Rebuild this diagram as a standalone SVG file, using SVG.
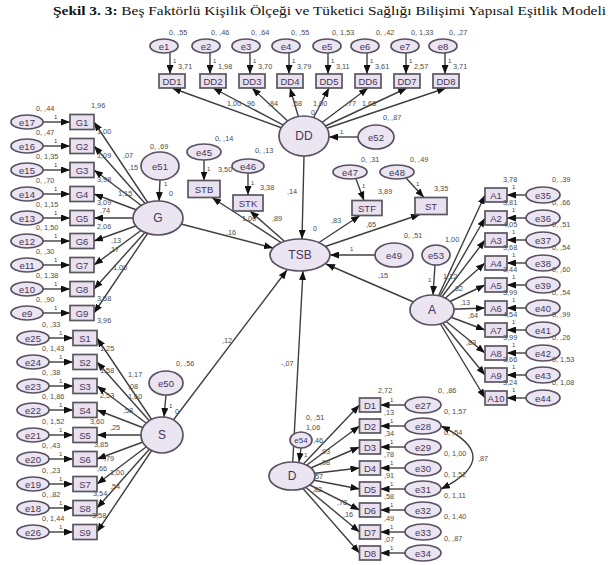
<svg xmlns="http://www.w3.org/2000/svg" width="608" height="565" viewBox="0 0 608 565">
<defs>
<marker id="ah" markerWidth="9" markerHeight="7" refX="9" refY="3.5" orient="auto" markerUnits="userSpaceOnUse"><path d="M0,0 L9,3.5 L0,7 z" fill="#111"/></marker>
<marker id="ah2" markerWidth="9" markerHeight="7" refX="9" refY="3.5" orient="auto-start-reverse" markerUnits="userSpaceOnUse"><path d="M0,0 L9,3.5 L0,7 z" fill="#111"/></marker>
<style>
.lat{fill:#ebe4f1;stroke:#5a5062;stroke-width:1.7}
.obs{fill:#e9e1ef;stroke:#5a5660;stroke-width:1.7}
.lt{font-family:"Liberation Sans",Arial,sans-serif;font-size:12px;fill:#45365a;text-anchor:middle;dominant-baseline:central}
.nt{font-family:"Liberation Sans",Arial,sans-serif;font-size:9.5px;fill:#45365a;text-anchor:middle;dominant-baseline:central}
.lb{font-family:"Liberation Sans",Arial,sans-serif;font-size:7.3px;fill:#4d4d4d}
.one{font-family:"Liberation Sans",Arial,sans-serif;font-size:6px;fill:#444}
.c{stroke:#3f3f3f;stroke-width:1.4;fill:none;marker-end:url(#ah)}
.cv{stroke:#3f3f3f;stroke-width:1.4;fill:none;marker-start:url(#ah2);marker-end:url(#ah2)}
.ttl{font-family:"Liberation Serif","Times New Roman",serif;font-size:13.5px;fill:#111}
</style>
</defs>
<rect width="608" height="565" fill="#fff"/>
<text class="ttl" x="53" y="15" textLength="553" lengthAdjust="spacingAndGlyphs"><tspan font-weight="bold">Şekil 3. 3:</tspan> Beş Faktörlü Kişilik Ölçeği ve Tüketici Sağlığı Bilişimi Yapısal Eşitlik Modeli</text>

<g id="connectors">
<line class="c" x1="170" y1="53" x2="170" y2="74"/>
<line class="c" x1="210" y1="53" x2="210" y2="74"/>
<line class="c" x1="250" y1="53" x2="250" y2="74"/>
<line class="c" x1="289" y1="53" x2="289" y2="74"/>
<line class="c" x1="328" y1="53" x2="328" y2="74"/>
<line class="c" x1="367" y1="53" x2="367" y2="74"/>
<line class="c" x1="406" y1="53" x2="406" y2="74"/>
<line class="c" x1="445" y1="53" x2="445" y2="74"/>
<line class="c" x1="304" y1="136" x2="172" y2="88"/>
<line class="c" x1="304" y1="136" x2="213" y2="88"/>
<line class="c" x1="304" y1="136" x2="252" y2="88"/>
<line class="c" x1="304" y1="136" x2="290" y2="88"/>
<line class="c" x1="304" y1="136" x2="329" y2="88"/>
<line class="c" x1="304" y1="136" x2="368" y2="88"/>
<line class="c" x1="304" y1="136" x2="407" y2="88"/>
<line class="c" x1="304" y1="136" x2="446" y2="88"/>
<line class="c" x1="358" y1="137" x2="329" y2="137"/>
<line class="c" x1="304" y1="156" x2="302" y2="239"/>
<line class="c" x1="43" y1="122" x2="70" y2="122"/>
<line class="c" x1="43" y1="146" x2="70" y2="146"/>
<line class="c" x1="43" y1="170" x2="70" y2="170"/>
<line class="c" x1="43" y1="194" x2="70" y2="194"/>
<line class="c" x1="43" y1="218" x2="70" y2="218"/>
<line class="c" x1="43" y1="241" x2="70" y2="241"/>
<line class="c" x1="43" y1="265" x2="70" y2="265"/>
<line class="c" x1="43" y1="289" x2="70" y2="289"/>
<line class="c" x1="43" y1="313" x2="70" y2="313"/>
<line class="c" x1="158" y1="218" x2="94" y2="122"/>
<line class="c" x1="158" y1="218" x2="94" y2="146"/>
<line class="c" x1="158" y1="218" x2="94" y2="170"/>
<line class="c" x1="158" y1="218" x2="94" y2="194"/>
<line class="c" x1="158" y1="218" x2="94" y2="218"/>
<line class="c" x1="158" y1="218" x2="94" y2="241"/>
<line class="c" x1="158" y1="218" x2="94" y2="265"/>
<line class="c" x1="158" y1="218" x2="94" y2="289"/>
<line class="c" x1="158" y1="218" x2="94" y2="313"/>
<line class="c" x1="160" y1="180" x2="159" y2="201"/>
<line class="c" x1="158" y1="218" x2="273" y2="248"/>
<line class="c" x1="49" y1="338" x2="73" y2="338"/>
<line class="c" x1="49" y1="362" x2="73" y2="362"/>
<line class="c" x1="49" y1="386" x2="73" y2="386"/>
<line class="c" x1="49" y1="410" x2="73" y2="410"/>
<line class="c" x1="49" y1="435" x2="73" y2="435"/>
<line class="c" x1="49" y1="459" x2="73" y2="459"/>
<line class="c" x1="49" y1="484" x2="73" y2="484"/>
<line class="c" x1="49" y1="508" x2="73" y2="508"/>
<line class="c" x1="49" y1="532" x2="73" y2="532"/>
<line class="c" x1="162" y1="435" x2="97" y2="338"/>
<line class="c" x1="162" y1="435" x2="97" y2="362"/>
<line class="c" x1="162" y1="435" x2="97" y2="386"/>
<line class="c" x1="162" y1="435" x2="97" y2="410"/>
<line class="c" x1="162" y1="435" x2="97" y2="435"/>
<line class="c" x1="162" y1="435" x2="97" y2="459"/>
<line class="c" x1="162" y1="435" x2="97" y2="484"/>
<line class="c" x1="162" y1="435" x2="97" y2="508"/>
<line class="c" x1="162" y1="435" x2="97" y2="532"/>
<line class="c" x1="166" y1="395" x2="164" y2="417"/>
<line class="c" x1="162" y1="435" x2="287" y2="270"/>
<line class="c" x1="204" y1="160" x2="204" y2="180.5"/>
<line class="c" x1="248" y1="173" x2="248" y2="195"/>
<line class="c" x1="356" y1="179" x2="364" y2="200.5"/>
<line class="c" x1="406" y1="178" x2="424" y2="197.5"/>
<line class="c" x1="300" y1="255" x2="212" y2="197.5"/>
<line class="c" x1="300" y1="255" x2="250" y2="211"/>
<line class="c" x1="300" y1="255" x2="360" y2="215.5"/>
<line class="c" x1="300" y1="255" x2="420" y2="214.5"/>
<line class="c" x1="375" y1="255" x2="330" y2="255"/>
<line class="c" x1="432" y1="310" x2="326" y2="264"/>
<line class="c" x1="292" y1="476" x2="303" y2="271"/>
<line class="c" x1="526" y1="195" x2="507" y2="195"/>
<line class="c" x1="526" y1="218" x2="507" y2="218"/>
<line class="c" x1="526" y1="240" x2="507" y2="240"/>
<line class="c" x1="526" y1="263" x2="507" y2="263"/>
<line class="c" x1="526" y1="285" x2="507" y2="285"/>
<line class="c" x1="526" y1="308" x2="507" y2="308"/>
<line class="c" x1="526" y1="330" x2="507" y2="330"/>
<line class="c" x1="526" y1="353" x2="507" y2="353"/>
<line class="c" x1="526" y1="375" x2="507" y2="375"/>
<line class="c" x1="526" y1="398" x2="507" y2="398"/>
<line class="c" x1="432" y1="310" x2="485" y2="195"/>
<line class="c" x1="432" y1="310" x2="485" y2="218"/>
<line class="c" x1="432" y1="310" x2="485" y2="240"/>
<line class="c" x1="432" y1="310" x2="485" y2="263"/>
<line class="c" x1="432" y1="310" x2="485" y2="285"/>
<line class="c" x1="432" y1="310" x2="485" y2="308"/>
<line class="c" x1="432" y1="310" x2="485" y2="330"/>
<line class="c" x1="432" y1="310" x2="485" y2="353"/>
<line class="c" x1="432" y1="310" x2="485" y2="375"/>
<line class="c" x1="432" y1="310" x2="485" y2="398"/>
<line class="c" x1="435" y1="265" x2="433" y2="295"/>
<line class="c" x1="405" y1="405" x2="380.5" y2="405"/>
<line class="c" x1="405" y1="426" x2="380.5" y2="426"/>
<line class="c" x1="405" y1="447" x2="380.5" y2="447"/>
<line class="c" x1="405" y1="468" x2="380.5" y2="468"/>
<line class="c" x1="405" y1="489" x2="380.5" y2="489"/>
<line class="c" x1="405" y1="510" x2="380.5" y2="510"/>
<line class="c" x1="405" y1="532" x2="380.5" y2="532"/>
<line class="c" x1="405" y1="553" x2="380.5" y2="553"/>
<line class="c" x1="292" y1="476" x2="359.5" y2="405"/>
<line class="c" x1="292" y1="476" x2="359.5" y2="426"/>
<line class="c" x1="292" y1="476" x2="359.5" y2="447"/>
<line class="c" x1="292" y1="476" x2="359.5" y2="468"/>
<line class="c" x1="292" y1="476" x2="359.5" y2="489"/>
<line class="c" x1="292" y1="476" x2="359.5" y2="510"/>
<line class="c" x1="292" y1="476" x2="359.5" y2="532"/>
<line class="c" x1="292" y1="476" x2="359.5" y2="553"/>
<line class="c" x1="301" y1="448" x2="299" y2="462"/>
<path class="cv" d="M441,426 Q505,457 441,489"/>
</g>

<g id="e1"><ellipse class="lat" cx="164" cy="46" rx="14" ry="7"/><text class="nt" x="164" y="46">e1</text></g>
<g id="e2"><ellipse class="lat" cx="206" cy="46" rx="14" ry="7"/><text class="nt" x="206" y="46">e2</text></g>
<g id="e3"><ellipse class="lat" cx="246" cy="46" rx="14" ry="7"/><text class="nt" x="246" y="46">e3</text></g>
<g id="e4"><ellipse class="lat" cx="286" cy="46" rx="14" ry="7"/><text class="nt" x="286" y="46">e4</text></g>
<g id="e5"><ellipse class="lat" cx="327" cy="46" rx="14" ry="7"/><text class="nt" x="327" y="46">e5</text></g>
<g id="e6"><ellipse class="lat" cx="365" cy="46" rx="14" ry="7"/><text class="nt" x="365" y="46">e6</text></g>
<g id="e7"><ellipse class="lat" cx="405" cy="46" rx="14" ry="7"/><text class="nt" x="405" y="46">e7</text></g>
<g id="e8"><ellipse class="lat" cx="443" cy="46" rx="14" ry="7"/><text class="nt" x="443" y="46">e8</text></g>
<g id="DD1"><rect class="obs" x="159" y="74" width="26" height="14"/><text class="nt" x="172" y="81">DD1</text></g>
<g id="DD2"><rect class="obs" x="200" y="74" width="26" height="14"/><text class="nt" x="213" y="81">DD2</text></g>
<g id="DD3"><rect class="obs" x="239" y="74" width="26" height="14"/><text class="nt" x="252" y="81">DD3</text></g>
<g id="DD4"><rect class="obs" x="277" y="74" width="26" height="14"/><text class="nt" x="290" y="81">DD4</text></g>
<g id="DD5"><rect class="obs" x="316" y="74" width="26" height="14"/><text class="nt" x="329" y="81">DD5</text></g>
<g id="DD6"><rect class="obs" x="355" y="74" width="26" height="14"/><text class="nt" x="368" y="81">DD6</text></g>
<g id="DD7"><rect class="obs" x="394" y="74" width="26" height="14"/><text class="nt" x="407" y="81">DD7</text></g>
<g id="DD8"><rect class="obs" x="433" y="74" width="26" height="14"/><text class="nt" x="446" y="81">DD8</text></g>
<g id="DD"><ellipse class="lat" cx="304" cy="136" rx="25" ry="20"/><text class="lt" x="304" y="136">DD</text></g>
<g id="e52"><ellipse class="lat" cx="376" cy="137" rx="18" ry="12"/><text class="nt" x="376" y="137">e52</text></g>

<g id="e17"><ellipse class="lat" cx="27" cy="122" rx="16" ry="7"/><text class="nt" x="27" y="122">e17</text></g>
<g id="e16"><ellipse class="lat" cx="27" cy="146" rx="16" ry="7"/><text class="nt" x="27" y="146">e16</text></g>
<g id="e15"><ellipse class="lat" cx="27" cy="170" rx="16" ry="7"/><text class="nt" x="27" y="170">e15</text></g>
<g id="e14"><ellipse class="lat" cx="27" cy="194" rx="16" ry="7"/><text class="nt" x="27" y="194">e14</text></g>
<g id="e13"><ellipse class="lat" cx="27" cy="218" rx="16" ry="7"/><text class="nt" x="27" y="218">e13</text></g>
<g id="e12"><ellipse class="lat" cx="27" cy="241" rx="16" ry="7"/><text class="nt" x="27" y="241">e12</text></g>
<g id="e11"><ellipse class="lat" cx="27" cy="265" rx="16" ry="7"/><text class="nt" x="27" y="265">e11</text></g>
<g id="e10"><ellipse class="lat" cx="27" cy="289" rx="16" ry="7"/><text class="nt" x="27" y="289">e10</text></g>
<g id="e9"><ellipse class="lat" cx="27" cy="313" rx="16" ry="7"/><text class="nt" x="27" y="313">e9</text></g>
<g id="G1"><rect class="obs" x="70" y="114.5" width="24" height="15"/><text class="nt" x="82" y="122">G1</text></g>
<g id="G2"><rect class="obs" x="70" y="138.5" width="24" height="15"/><text class="nt" x="82" y="146">G2</text></g>
<g id="G3"><rect class="obs" x="70" y="162.5" width="24" height="15"/><text class="nt" x="82" y="170">G3</text></g>
<g id="G4"><rect class="obs" x="70" y="186.5" width="24" height="15"/><text class="nt" x="82" y="194">G4</text></g>
<g id="G5"><rect class="obs" x="70" y="210.5" width="24" height="15"/><text class="nt" x="82" y="218">G5</text></g>
<g id="G6"><rect class="obs" x="70" y="233.5" width="24" height="15"/><text class="nt" x="82" y="241">G6</text></g>
<g id="G7"><rect class="obs" x="70" y="257.5" width="24" height="15"/><text class="nt" x="82" y="265">G7</text></g>
<g id="G8"><rect class="obs" x="70" y="281.5" width="24" height="15"/><text class="nt" x="82" y="289">G8</text></g>
<g id="G9"><rect class="obs" x="70" y="305.5" width="24" height="15"/><text class="nt" x="82" y="313">G9</text></g>
<g id="G"><ellipse class="lat" cx="158" cy="218" rx="25" ry="17"/><text class="lt" x="158" y="218">G</text></g>
<g id="e51"><ellipse class="lat" cx="160" cy="166" rx="19" ry="14"/><text class="nt" x="160" y="166">e51</text></g>

<g id="e25"><ellipse class="lat" cx="33" cy="338" rx="16" ry="7"/><text class="nt" x="33" y="338">e25</text></g>
<g id="e24"><ellipse class="lat" cx="33" cy="362" rx="16" ry="7"/><text class="nt" x="33" y="362">e24</text></g>
<g id="e23"><ellipse class="lat" cx="33" cy="386" rx="16" ry="7"/><text class="nt" x="33" y="386">e23</text></g>
<g id="e22"><ellipse class="lat" cx="33" cy="410" rx="16" ry="7"/><text class="nt" x="33" y="410">e22</text></g>
<g id="e21"><ellipse class="lat" cx="33" cy="435" rx="16" ry="7"/><text class="nt" x="33" y="435">e21</text></g>
<g id="e20"><ellipse class="lat" cx="33" cy="459" rx="16" ry="7"/><text class="nt" x="33" y="459">e20</text></g>
<g id="e19"><ellipse class="lat" cx="33" cy="484" rx="16" ry="7"/><text class="nt" x="33" y="484">e19</text></g>
<g id="e18"><ellipse class="lat" cx="33" cy="508" rx="16" ry="7"/><text class="nt" x="33" y="508">e18</text></g>
<g id="e26"><ellipse class="lat" cx="33" cy="532" rx="16" ry="7"/><text class="nt" x="33" y="532">e26</text></g>
<g id="S1"><rect class="obs" x="73" y="330.5" width="24" height="15"/><text class="nt" x="85" y="338">S1</text></g>
<g id="S2"><rect class="obs" x="73" y="354.5" width="24" height="15"/><text class="nt" x="85" y="362">S2</text></g>
<g id="S3"><rect class="obs" x="73" y="378.5" width="24" height="15"/><text class="nt" x="85" y="386">S3</text></g>
<g id="S4"><rect class="obs" x="73" y="402.5" width="24" height="15"/><text class="nt" x="85" y="410">S4</text></g>
<g id="S5"><rect class="obs" x="73" y="427.5" width="24" height="15"/><text class="nt" x="85" y="435">S5</text></g>
<g id="S6"><rect class="obs" x="73" y="451.5" width="24" height="15"/><text class="nt" x="85" y="459">S6</text></g>
<g id="S7"><rect class="obs" x="73" y="476.5" width="24" height="15"/><text class="nt" x="85" y="484">S7</text></g>
<g id="S8"><rect class="obs" x="73" y="500.5" width="24" height="15"/><text class="nt" x="85" y="508">S8</text></g>
<g id="S9"><rect class="obs" x="73" y="524.5" width="24" height="15"/><text class="nt" x="85" y="532">S9</text></g>
<g id="S"><ellipse class="lat" cx="162" cy="435" rx="21" ry="18"/><text class="lt" x="162" y="435">S</text></g>
<g id="e50"><ellipse class="lat" cx="166" cy="383" rx="17" ry="12"/><text class="nt" x="166" y="383">e50</text></g>

<g id="TSB"><ellipse class="lat" cx="300" cy="255" rx="30" ry="16"/><text class="lt" x="300" y="255">TSB</text></g>
<g id="e45"><ellipse class="lat" cx="204" cy="152" rx="17" ry="8"/><text class="nt" x="204" y="152">e45</text></g>
<g id="STB"><rect class="obs" x="188" y="180.5" width="32" height="17"/><text class="nt" x="204" y="189">STB</text></g>
<g id="e46"><ellipse class="lat" cx="248" cy="166" rx="16" ry="7"/><text class="nt" x="248" y="166">e46</text></g>
<g id="STK"><rect class="obs" x="233" y="195" width="30" height="16"/><text class="nt" x="248" y="203">STK</text></g>
<g id="e47"><ellipse class="lat" cx="350" cy="172" rx="17" ry="7"/><text class="nt" x="350" y="172">e47</text></g>
<g id="STF"><rect class="obs" x="352" y="200.5" width="30" height="15"/><text class="nt" x="367" y="208">STF</text></g>
<g id="e48"><ellipse class="lat" cx="397" cy="172" rx="17" ry="7"/><text class="nt" x="397" y="172">e48</text></g>
<g id="ST"><rect class="obs" x="415" y="197.5" width="32" height="17"/><text class="nt" x="431" y="206">ST</text></g>
<g id="e49"><ellipse class="lat" cx="394" cy="255" rx="19" ry="12"/><text class="nt" x="394" y="255">e49</text></g>

<g id="A1"><rect class="obs" x="485" y="188" width="22" height="14"/><text class="nt" x="496" y="195">A1</text></g>
<g id="A2"><rect class="obs" x="485" y="211" width="22" height="14"/><text class="nt" x="496" y="218">A2</text></g>
<g id="A3"><rect class="obs" x="485" y="233" width="22" height="14"/><text class="nt" x="496" y="240">A3</text></g>
<g id="A4"><rect class="obs" x="485" y="256" width="22" height="14"/><text class="nt" x="496" y="263">A4</text></g>
<g id="A5"><rect class="obs" x="485" y="278" width="22" height="14"/><text class="nt" x="496" y="285">A5</text></g>
<g id="A6"><rect class="obs" x="485" y="301" width="22" height="14"/><text class="nt" x="496" y="308">A6</text></g>
<g id="A7"><rect class="obs" x="485" y="323" width="22" height="14"/><text class="nt" x="496" y="330">A7</text></g>
<g id="A8"><rect class="obs" x="485" y="346" width="22" height="14"/><text class="nt" x="496" y="353">A8</text></g>
<g id="A9"><rect class="obs" x="485" y="368" width="22" height="14"/><text class="nt" x="496" y="375">A9</text></g>
<g id="A10"><rect class="obs" x="485" y="391" width="22" height="14"/><text class="nt" x="496" y="398">A10</text></g>
<g id="e35"><ellipse class="lat" cx="543" cy="195" rx="17" ry="8"/><text class="nt" x="543" y="195">e35</text></g>
<g id="e36"><ellipse class="lat" cx="543" cy="218" rx="17" ry="8"/><text class="nt" x="543" y="218">e36</text></g>
<g id="e37"><ellipse class="lat" cx="543" cy="240" rx="17" ry="8"/><text class="nt" x="543" y="240">e37</text></g>
<g id="e38"><ellipse class="lat" cx="543" cy="263" rx="17" ry="8"/><text class="nt" x="543" y="263">e38</text></g>
<g id="e39"><ellipse class="lat" cx="543" cy="285" rx="17" ry="8"/><text class="nt" x="543" y="285">e39</text></g>
<g id="e40"><ellipse class="lat" cx="543" cy="308" rx="17" ry="8"/><text class="nt" x="543" y="308">e40</text></g>
<g id="e41"><ellipse class="lat" cx="543" cy="330" rx="17" ry="8"/><text class="nt" x="543" y="330">e41</text></g>
<g id="e42"><ellipse class="lat" cx="543" cy="353" rx="17" ry="8"/><text class="nt" x="543" y="353">e42</text></g>
<g id="e43"><ellipse class="lat" cx="543" cy="375" rx="17" ry="8"/><text class="nt" x="543" y="375">e43</text></g>
<g id="e44"><ellipse class="lat" cx="543" cy="398" rx="17" ry="8"/><text class="nt" x="543" y="398">e44</text></g>
<g id="A"><ellipse class="lat" cx="432" cy="310" rx="22" ry="15"/><text class="lt" x="432" y="310">A</text></g>
<g id="e53"><ellipse class="lat" cx="436" cy="255" rx="14" ry="10"/><text class="nt" x="436" y="255">e53</text></g>

<g id="D1"><rect class="obs" x="359.5" y="398" width="21" height="14"/><text class="nt" x="370" y="405">D1</text></g>
<g id="D2"><rect class="obs" x="359.5" y="419" width="21" height="14"/><text class="nt" x="370" y="426">D2</text></g>
<g id="D3"><rect class="obs" x="359.5" y="440" width="21" height="14"/><text class="nt" x="370" y="447">D3</text></g>
<g id="D4"><rect class="obs" x="359.5" y="461" width="21" height="14"/><text class="nt" x="370" y="468">D4</text></g>
<g id="D5"><rect class="obs" x="359.5" y="482" width="21" height="14"/><text class="nt" x="370" y="489">D5</text></g>
<g id="D6"><rect class="obs" x="359.5" y="503" width="21" height="14"/><text class="nt" x="370" y="510">D6</text></g>
<g id="D7"><rect class="obs" x="359.5" y="525" width="21" height="14"/><text class="nt" x="370" y="532">D7</text></g>
<g id="D8"><rect class="obs" x="359.5" y="546" width="21" height="14"/><text class="nt" x="370" y="553">D8</text></g>
<g id="e27"><ellipse class="lat" cx="423" cy="405" rx="18" ry="8"/><text class="nt" x="423" y="405">e27</text></g>
<g id="e28"><ellipse class="lat" cx="423" cy="426" rx="18" ry="8"/><text class="nt" x="423" y="426">e28</text></g>
<g id="e29"><ellipse class="lat" cx="423" cy="447" rx="18" ry="8"/><text class="nt" x="423" y="447">e29</text></g>
<g id="e30"><ellipse class="lat" cx="423" cy="468" rx="18" ry="8"/><text class="nt" x="423" y="468">e30</text></g>
<g id="e31"><ellipse class="lat" cx="423" cy="489" rx="18" ry="8"/><text class="nt" x="423" y="489">e31</text></g>
<g id="e32"><ellipse class="lat" cx="423" cy="510" rx="18" ry="8"/><text class="nt" x="423" y="510">e32</text></g>
<g id="e33"><ellipse class="lat" cx="423" cy="532" rx="18" ry="8"/><text class="nt" x="423" y="532">e33</text></g>
<g id="e34"><ellipse class="lat" cx="423" cy="553" rx="18" ry="8"/><text class="nt" x="423" y="553">e34</text></g>
<g id="D"><ellipse class="lat" cx="292" cy="476" rx="23" ry="14"/><text class="lt" x="292" y="476">D</text></g>
<g id="e54"><ellipse class="lat" cx="301" cy="440" rx="11" ry="8"/><text class="nt" x="301" y="440" style="font-size:8px">e54</text></g>

<g id="labels">
<text class="lb" x="169" y="35">0, ,55</text><text class="lb" x="211" y="35">0, ,46</text><text class="lb" x="251" y="35">0, ,64</text><text class="lb" x="291" y="35">0, ,55</text><text class="lb" x="332" y="35">0, 1,53</text><text class="lb" x="376" y="35">0, ,42</text><text class="lb" x="411" y="35">0, 1,33</text><text class="lb" x="449" y="35">0, ,27</text>
<text class="one" x="173" y="63">1</text><text class="one" x="213" y="63">1</text><text class="one" x="253" y="63">1</text><text class="one" x="292" y="63">1</text><text class="one" x="331" y="63">1</text><text class="one" x="370" y="63">1</text><text class="one" x="409" y="63">1</text><text class="one" x="448" y="63">1</text>
<text class="lb" x="178" y="69">3,71</text><text class="lb" x="218" y="69">1,98</text><text class="lb" x="258" y="69">3,70</text><text class="lb" x="297" y="69">3,79</text><text class="lb" x="336" y="69">3,11</text><text class="lb" x="375" y="69">3,61</text><text class="lb" x="414" y="69">2,57</text><text class="lb" x="453" y="69">3,71</text>
<text class="lb" x="227" y="106">1,00</text><text class="lb" x="245" y="106">,96</text><text class="lb" x="268" y="106">,84</text><text class="lb" x="292" y="106">,58</text><text class="lb" x="313" y="106">1,00</text><text class="lb" x="346" y="106">,77</text><text class="lb" x="362" y="106">1,65</text>
<text class="lb" x="311" y="115">0</text>
<text class="lb" x="383" y="120">0, ,87</text><text class="one" x="340" y="134">1</text>
<text class="lb" x="287" y="194">,14</text>
<text class="lb" x="36" y="111">0, ,44</text><text class="lb" x="36" y="135">0, ,47</text><text class="lb" x="36" y="159">0, 1,35</text><text class="lb" x="36" y="183">0, ,70</text><text class="lb" x="36" y="207">0, 1,15</text><text class="lb" x="36" y="230">0, 1,50</text><text class="lb" x="36" y="254">0, ,30</text><text class="lb" x="36" y="278">0, 1,38</text><text class="lb" x="36" y="302">0, ,90</text>
<text class="one" x="54" y="119">1</text><text class="one" x="54" y="143">1</text><text class="one" x="54" y="167">1</text><text class="one" x="54" y="191">1</text><text class="one" x="54" y="215">1</text><text class="one" x="54" y="238">1</text><text class="one" x="54" y="262">1</text><text class="one" x="54" y="286">1</text><text class="one" x="54" y="310">1</text>
<text class="lb" x="91" y="108">1,96</text><text class="lb" x="97" y="134">1,00</text><text class="lb" x="97" y="158">1,09</text><text class="lb" x="123" y="158">,07</text><text class="lb" x="128" y="170">,15</text><text class="lb" x="97" y="182">3,98</text><text class="lb" x="118" y="196">1,15</text><text class="lb" x="97" y="205">3,09</text><text class="lb" x="100" y="213">,74</text><text class="lb" x="97" y="229">2,06</text><text class="lb" x="111" y="243">,13</text><text class="lb" x="109" y="252">,17</text><text class="lb" x="113" y="270">1,00</text><text class="lb" x="97" y="301">3,58</text><text class="lb" x="97" y="323">3,96</text>
<text class="lb" x="150" y="149">0, ,69</text><text class="one" x="164" y="186">1</text><text class="lb" x="169" y="196">0</text>
<text class="lb" x="226" y="235">,16</text>
<text class="lb" x="42" y="327">0, ,33</text><text class="lb" x="42" y="351">0, 1,43</text><text class="lb" x="42" y="375">0, ,38</text><text class="lb" x="42" y="399">0, 1,86</text><text class="lb" x="42" y="424">0, 1,52</text><text class="lb" x="42" y="448">0, ,43</text><text class="lb" x="42" y="473">0, ,23</text><text class="lb" x="42" y="497">0, ,82</text><text class="lb" x="42" y="521">0, 1,44</text>
<text class="one" x="59" y="335">1</text><text class="one" x="59" y="359">1</text><text class="one" x="59" y="383">1</text><text class="one" x="59" y="407">1</text><text class="one" x="59" y="432">1</text><text class="one" x="59" y="456">1</text><text class="one" x="59" y="481">1</text><text class="one" x="59" y="505">1</text><text class="one" x="59" y="529">1</text>
<text class="lb" x="100" y="351">1,25</text><text class="lb" x="100" y="373">1,58</text><text class="lb" x="128" y="389">,08</text><text class="lb" x="100" y="398">2,53</text><text class="lb" x="128" y="399">1,60</text><text class="lb" x="123" y="413">,58</text><text class="lb" x="90" y="424">3,60</text><text class="lb" x="110" y="430">,25</text><text class="lb" x="94" y="447">3,85</text><text class="lb" x="104" y="461">,79</text><text class="lb" x="97" y="471">,66</text><text class="lb" x="110" y="475">1,00</text><text class="lb" x="110" y="489">,54</text><text class="lb" x="93" y="496">3,54</text><text class="lb" x="92" y="518">3,58</text>
<text class="lb" x="128" y="377">1,17</text><text class="lb" x="176" y="366">0, ,56</text><text class="one" x="169" y="408">1</text><text class="lb" x="175" y="414">0</text>
<text class="lb" x="222" y="343">,12</text>
<text class="lb" x="215" y="141">0, ,14</text><text class="one" x="207" y="171">1</text><text class="lb" x="218" y="172">3,50</text>
<text class="lb" x="255" y="153">0, ,13</text><text class="one" x="251" y="185">1</text><text class="lb" x="260" y="190">3,38</text>
<text class="lb" x="361" y="162">0, ,31</text><text class="one" x="362" y="188">1</text><text class="lb" x="378" y="194">3,89</text>
<text class="lb" x="410" y="162">0, ,49</text><text class="one" x="416" y="186">1</text><text class="lb" x="434" y="191">3,35</text>
<text class="lb" x="242" y="221">1,00</text><text class="lb" x="272" y="221">,89</text><text class="lb" x="313" y="231">0</text><text class="lb" x="331" y="223">,83</text><text class="lb" x="366" y="227">,65</text>
<text class="lb" x="404" y="238">0, ,51</text><text class="one" x="350" y="251">1</text><text class="lb" x="378" y="278">,15</text>
<text class="lb" x="281" y="366">-,07</text>
<text class="lb" x="503" y="182">3,78</text><text class="lb" x="503" y="205">3,81</text><text class="lb" x="503" y="227">4,05</text><text class="lb" x="503" y="250">3,68</text><text class="lb" x="503" y="272">3,44</text><text class="lb" x="503" y="295">3,99</text><text class="lb" x="503" y="317">4,54</text><text class="lb" x="503" y="340">3,99</text><text class="lb" x="503" y="362">3,66</text><text class="lb" x="503" y="385">3,24</text>
<text class="one" x="512" y="189">1</text><text class="one" x="512" y="212">1</text><text class="one" x="512" y="234">1</text><text class="one" x="512" y="257">1</text><text class="one" x="512" y="279">1</text><text class="one" x="512" y="302">1</text><text class="one" x="512" y="324">1</text><text class="one" x="512" y="347">1</text><text class="one" x="512" y="369">1</text><text class="one" x="512" y="392">1</text>
<text class="lb" x="552" y="182">0, ,39</text><text class="lb" x="552" y="205">0, ,66</text><text class="lb" x="552" y="227">0, ,51</text><text class="lb" x="552" y="250">0, ,54</text><text class="lb" x="552" y="272">0, ,60</text><text class="lb" x="552" y="295">0, ,54</text><text class="lb" x="552" y="317">0, ,99</text><text class="lb" x="552" y="340">0, ,26</text><text class="lb" x="552" y="362">0, 1,53</text><text class="lb" x="552" y="385">0, 1,08</text>
<text class="lb" x="445" y="242">1,00</text><text class="one" x="428" y="282">1</text><text class="lb" x="443" y="279">1,12</text><text class="lb" x="453" y="291">,82</text><text class="lb" x="460" y="305">,13</text><text class="lb" x="468" y="318">,64</text><text class="lb" x="466" y="345">,83</text>
<text class="lb" x="378" y="393">2,72</text><text class="lb" x="384" y="415">,13</text><text class="lb" x="384" y="436">,34</text><text class="lb" x="384" y="457">,78</text><text class="lb" x="384" y="478">,91</text><text class="lb" x="384" y="499">,58</text><text class="lb" x="384" y="521">,49</text><text class="lb" x="384" y="542">,07</text>
<text class="one" x="390" y="402">1</text><text class="one" x="390" y="423">1</text><text class="one" x="390" y="444">1</text><text class="one" x="390" y="465">1</text><text class="one" x="390" y="486">1</text><text class="one" x="390" y="507">1</text><text class="one" x="390" y="529">1</text><text class="one" x="390" y="550">1</text>
<text class="lb" x="438" y="393">0, ,86</text><text class="lb" x="444" y="414">0, 1,57</text><text class="lb" x="444" y="435">0, ,54</text><text class="lb" x="444" y="456">0, 1,00</text><text class="lb" x="444" y="477">0, 1,52</text><text class="lb" x="444" y="498">0, 1,11</text><text class="lb" x="444" y="519">0, 1,40</text><text class="lb" x="444" y="541">0, ,87</text>
<text class="lb" x="478" y="461">,87</text>
<text class="lb" x="306" y="420">0, ,51</text><text class="lb" x="306" y="430">1,06</text><text class="lb" x="313" y="443">,46</text><text class="one" x="304" y="457">1</text>
<text class="lb" x="320" y="454">,93</text><text class="lb" x="320" y="465">,98</text><text class="lb" x="313" y="479">,57</text><text class="lb" x="312" y="492">,82</text><text class="lb" x="337" y="505">,78</text><text class="lb" x="343" y="517">,16</text>
</g>
</svg>
